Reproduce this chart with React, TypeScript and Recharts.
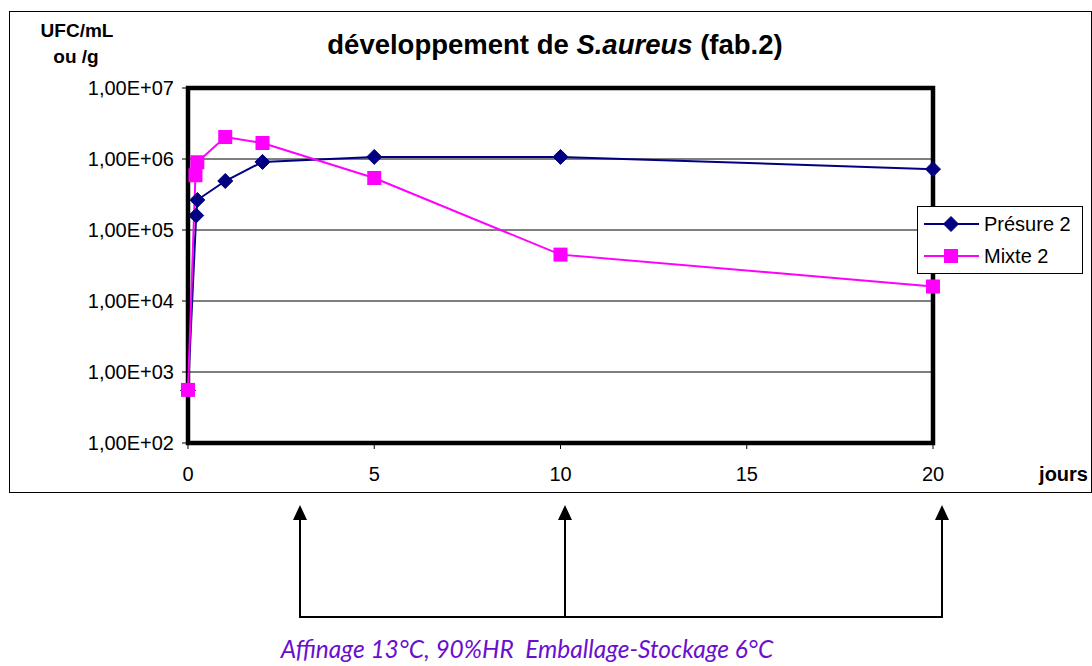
import React from "react";
import {
  CartesianGrid,
  Line,
  LineChart,
  ReferenceArea,
  XAxis,
  YAxis,
} from "recharts";

// days since production
const presureDays = [0, 0.22, 0.25, 1, 2, 5, 10, 20];
const presureUfc = [550, 160000, 265000, 490000, 910000, 1070000, 1070000, 720000];

const mixteDays = [0, 0.2, 0.25, 1, 2, 5, 10, 20];
const mixteUfc = [560, 590000, 900000, 2040000, 1680000, 540000, 45000, 16000];

const xTicks = [0, 5, 10, 15, 20];
const yTicks = [1e2, 1e3, 1e4, 1e5, 1e6, 1e7];

const presureData = presureDays.map((d, i) => ({ day: d, ufc: presureUfc[i] }));
const mixteData = mixteDays.map((d, i) => ({ day: d, ufc: mixteUfc[i] }));

const NAVY = "#000080";
const MAGENTA = "#ff00ff";
const FONT = "'Liberation Sans', Arial, sans-serif";

const fmtSci = (v: number) => {
  const exp = Math.round(Math.log10(v));
  return `1,00E+${String(exp).padStart(2, "0")}`;
};

const Diamond = (props: any) => {
  const { cx, cy } = props;
  if (cx == null || cy == null) return null;
  const r = 7.5;
  return (
    <path
      d={`M${cx},${cy - r} L${cx + r},${cy} L${cx},${cy + r} L${cx - r},${cy} Z`}
      fill={NAVY}
      stroke={NAVY}
    />
  );
};

const Square = (props: any) => {
  const { cx, cy } = props;
  if (cx == null || cy == null) return null;
  const h = 7;
  return <rect x={cx - h} y={cy - h} width={h * 2} height={h * 2} fill={MAGENTA} />;
};

const LegendBox = () => (
  <div
    style={{
      position: "absolute",
      left: 917,
      top: 206,
      width: 166,
      height: 68,
      border: "1px solid #000",
      background: "#fff",
      boxSizing: "border-box",
    }}
  >
    <svg width={164} height={66} style={{ display: "block" }}>
      <line x1={6} x2={61} y1={17} y2={17} stroke={NAVY} strokeWidth={2} />
      <Diamond cx={33} cy={17} />
      <text x={66} y={24} fontFamily={FONT} fontSize={20}>Présure 2</text>
      <line x1={6} x2={61} y1={49} y2={49} stroke={MAGENTA} strokeWidth={2} />
      <Square cx={33} cy={49} />
      <text x={66} y={56} fontFamily={FONT} fontSize={20}>Mixte 2</text>
    </svg>
  </div>
);

export default function App() {
  return (
    <div style={{ position: "absolute", left: 0, top: 0, width: 1092, height: 666, background: "#fff" }}>
      <div
        style={{
          position: "absolute",
          left: 9,
          top: 11,
          width: 1083,
          height: 482,
          border: "1px solid #000",
          boxSizing: "border-box",
        }}
      />
      <div style={{ position: "absolute", left: 10, top: 11 }}>
        <LineChart
          width={1082}
          height={481}
          margin={{ top: 77, right: 159, left: 78, bottom: 18 }}
        >
          <CartesianGrid horizontal vertical={false} stroke="#000" strokeOpacity={1} />
          <XAxis
            type="number"
            dataKey="day"
            domain={[0, 20]}
            ticks={xTicks}
            axisLine={false}
            tickLine={{ stroke: "#000" }}
            tickSize={6}
            height={31}
            fontSize={20}
            tick={{ fill: "#000", fontFamily: FONT, fontSize: 20, dy: 16 }}
          />
          <YAxis
            type="number"
            scale="log"
            domain={[100, 1e7]}
            ticks={yTicks}
            axisLine={false}
            tickLine={{ stroke: "#000" }}
            tickSize={6}
            width={100}
            fontSize={20}
            tickFormatter={fmtSci}
            tick={{ fill: "#000", fontFamily: FONT, fontSize: 20, dx: -6 }}
          />
          <ReferenceArea
            x1={0}
            x2={20}
            y1={100}
            y2={1e7}
            fill="none"
            fillOpacity={0}
            stroke="#000"
            strokeWidth={4.5}
            ifOverflow="visible"
          />
          <Line
            data={presureData}
            dataKey="ufc"
            name="Présure 2"
            stroke={NAVY}
            strokeWidth={2}
            dot={<Diamond />}
            activeDot={false}
            isAnimationActive={false}
          />
          <Line
            data={mixteData}
            dataKey="ufc"
            name="Mixte 2"
            stroke={MAGENTA}
            strokeWidth={2}
            dot={<Square />}
            activeDot={false}
            isAnimationActive={false}
          />
          <text x={545} y={43} textAnchor="middle" fontFamily={FONT} fontSize={27.5} fontWeight="bold">
            développement de <tspan fontStyle="italic">S.aureus</tspan> (fab.2)
          </text>
          <text x={67} y={26} textAnchor="middle" fontFamily={FONT} fontSize={19} fontWeight="bold">
            UFC/mL
          </text>
          <text x={66} y={52} textAnchor="middle" fontFamily={FONT} fontSize={19} fontWeight="bold">
            ou /g
          </text>
          <text x={1078} y={470} textAnchor="end" fontFamily={FONT} fontSize={20} fontWeight="bold">
            jours
          </text>
        </LineChart>
      </div>
      <LegendBox />
      <svg
        style={{ position: "absolute", left: 0, top: 493 }}
        width={1092}
        height={173}
      >
        <g stroke="#000" strokeWidth={2} fill="none">
          <line x1={300} x2={300} y1={27} y2={124} />
          <line x1={565} x2={565} y1={27} y2={124} />
          <line x1={942} x2={942} y1={27} y2={124} />
          <line x1={299} x2={943} y1={124} y2={124} />
        </g>
        <g fill="#000">
          <path d="M300,12 L307,27 L293,27 Z" />
          <path d="M565,12 L572,27 L558,27 Z" />
          <path d="M942,12 L949,27 L935,27 Z" />
        </g>
        <text
          x={527}
          y={165}
          textAnchor="middle"
          fontFamily="Lato, 'Open Sans', sans-serif"
          fontStyle="italic"
          fontSize={24.5}
          fill="#6a0fd0"
          style={{ whiteSpace: "pre" }}
        >
          {"Affinage 13°C, 90%HR\u00a0\u00a0Emballage-Stockage 6°C"}
        </text>
      </svg>
    </div>
  );
}
